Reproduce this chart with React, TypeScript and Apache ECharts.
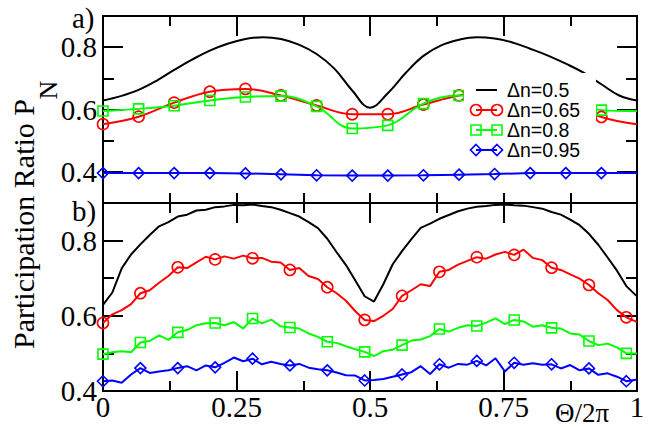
import React, { useEffect, useRef } from 'react';
import * as echarts from 'echarts';

// ---------- data ----------
// panel a) smooth curves
const xTopFine = [0, 0.0333, 0.0667, 0.1, 0.1333, 0.1667, 0.2, 0.2333, 0.2667, 0.3, 0.3333, 0.3667, 0.4, 0.4333, 0.4667, 0.5, 0.5333, 0.5667, 0.6, 0.6333, 0.6667, 0.7, 0.7333, 0.7667, 0.8, 0.8333, 0.8667, 0.9, 0.9333, 0.9667, 1];
const blackA = [0.629, 0.643, 0.663, 0.692, 0.727, 0.760, 0.789, 0.811, 0.826, 0.832, 0.826, 0.808, 0.778, 0.731, 0.661, 0.606, 0.652, 0.717, 0.772, 0.806, 0.824, 0.832, 0.828, 0.815, 0.795, 0.773, 0.747, 0.718, 0.681, 0.645, 0.629];

const xTop = [0, 0.0667, 0.1333, 0.2, 0.2667, 0.3333, 0.4, 0.4667, 0.5333, 0.6, 0.6667, 0.7333, 0.8, 0.8667, 0.9333, 1];
const redA = [0.553, 0.577, 0.622, 0.657, 0.666, 0.645, 0.613, 0.585, 0.585, 0.616, 0.645, 0.662, 0.660, 0.625, 0.576, 0.553];
const greenA = [0.595, 0.602, 0.612, 0.629, 0.640, 0.643, 0.610, 0.539, 0.549, 0.619, 0.645, 0.645, 0.635, 0.615, 0.598, 0.595];
const blueA = [0.396, 0.396, 0.396, 0.396, 0.395, 0.392, 0.389, 0.388, 0.388, 0.389, 0.391, 0.393, 0.396, 0.396, 0.396, 0.396];

// panel b) noisy curves
const xBot = [0, 0.0175, 0.035, 0.0525, 0.07, 0.0875, 0.105, 0.1225, 0.14, 0.1575, 0.175, 0.1925, 0.21, 0.2275, 0.245, 0.2625, 0.28, 0.2975, 0.315, 0.3325, 0.35, 0.3675, 0.385, 0.4025, 0.42, 0.4375, 0.455, 0.4725, 0.49, 0.5075, 0.525, 0.5425, 0.56, 0.5775, 0.595, 0.6125, 0.63, 0.6475, 0.665, 0.6825, 0.7, 0.7175, 0.735, 0.7525, 0.77, 0.7875, 0.805, 0.8225, 0.84, 0.8575, 0.875, 0.8925, 0.91, 0.9275, 0.945, 0.9625, 0.98, 0.9975, 1];
const blackB = [0.629, 0.662, 0.726, 0.763, 0.790, 0.815, 0.838, 0.849, 0.864, 0.869, 0.880, 0.882, 0.889, 0.891, 0.895, 0.894, 0.896, 0.892, 0.889, 0.882, 0.873, 0.864, 0.849, 0.833, 0.805, 0.769, 0.735, 0.694, 0.652, 0.638, 0.684, 0.737, 0.772, 0.804, 0.834, 0.845, 0.858, 0.868, 0.878, 0.885, 0.890, 0.892, 0.895, 0.896, 0.894, 0.893, 0.889, 0.885, 0.876, 0.869, 0.856, 0.841, 0.818, 0.789, 0.755, 0.720, 0.679, 0.655, 0.653];
const redB = [0.581, 0.604, 0.615, 0.631, 0.660, 0.668, 0.688, 0.706, 0.729, 0.727, 0.742, 0.757, 0.750, 0.758, 0.752, 0.760, 0.753, 0.754, 0.744, 0.742, 0.722, 0.727, 0.706, 0.698, 0.676, 0.660, 0.640, 0.612, 0.589, 0.586, 0.600, 0.618, 0.653, 0.668, 0.684, 0.679, 0.717, 0.722, 0.736, 0.746, 0.756, 0.752, 0.763, 0.770, 0.762, 0.776, 0.754, 0.748, 0.728, 0.722, 0.710, 0.699, 0.682, 0.660, 0.642, 0.615, 0.596, 0.585, 0.584];
const greenB = [0.498, 0.503, 0.506, 0.503, 0.529, 0.533, 0.548, 0.536, 0.556, 0.562, 0.575, 0.580, 0.581, 0.575, 0.583, 0.566, 0.593, 0.580, 0.590, 0.572, 0.569, 0.566, 0.553, 0.544, 0.531, 0.528, 0.519, 0.511, 0.504, 0.493, 0.506, 0.510, 0.522, 0.534, 0.537, 0.546, 0.565, 0.558, 0.568, 0.575, 0.573, 0.582, 0.593, 0.578, 0.589, 0.585, 0.571, 0.575, 0.568, 0.566, 0.553, 0.550, 0.533, 0.522, 0.526, 0.516, 0.500, 0.500, 0.500];
const blueB = [0.426, 0.428, 0.422, 0.444, 0.461, 0.448, 0.452, 0.455, 0.461, 0.466, 0.455, 0.468, 0.463, 0.475, 0.489, 0.479, 0.486, 0.471, 0.478, 0.472, 0.468, 0.472, 0.462, 0.458, 0.455, 0.449, 0.442, 0.441, 0.428, 0.429, 0.432, 0.438, 0.444, 0.450, 0.466, 0.445, 0.471, 0.462, 0.472, 0.470, 0.480, 0.468, 0.487, 0.452, 0.475, 0.470, 0.474, 0.470, 0.471, 0.460, 0.469, 0.455, 0.460, 0.443, 0.447, 0.438, 0.426, 0.430, 0.430];

// ticks and labels
const xTickValues = [0, 0.25, 0.5, 0.75, 1];
const yMajorValues = [0.4, 0.6, 0.8];
const yMinorValues = [0.5, 0.7];
const legendLabels = ['\u0394n=0.5', '\u0394n=0.65', '\u0394n=0.8', '\u0394n=0.95'];

// ---------- styles ----------
const RED = '#ff0000';
const GREEN = '#00ff00';
const BLUE = '#0000ff';
const BLACK = '#000000';
const SERIF = 'Liberation Serif';
const SANS = 'Liberation Sans';
const tickLine = { color: BLACK, width: 2 };

function markedData(xs: number[], ys: number[], isMarked: (i: number) => boolean) {
  return xs.map((x, i) => (isMarked(i) ? [x, ys[i]] : { value: [x, ys[i]], symbol: 'none' }));
}

function xAxesFor(gridIndex: number, showLabels: boolean, bottomAllShort: boolean) {
  const common = {
    type: 'value',
    gridIndex,
    min: 0,
    max: 1,
    axisLine: { show: false, onZero: false },
    splitLine: { show: false },
  };
  const bottom = bottomAllShort
    ? {
        ...common,
        position: 'bottom',
        interval: 0.125,
        axisTick: { show: true, inside: true, length: 10, lineStyle: tickLine },
        axisLabel: { show: false },
      }
    : {
        ...common,
        position: 'bottom',
        interval: 0.25,
        axisTick: { show: true, inside: true, length: 20, lineStyle: tickLine },
        minorTick: { show: true, splitNumber: 2, length: 10, lineStyle: tickLine },
        axisLabel: {
          show: showLabels,
          customValues: xTickValues,
          formatter: (v: number) => String(v),
          fontFamily: SERIF,
          fontSize: 29,
          color: BLACK,
          margin: 1,
        },
      };
  const top = {
    ...common,
    position: 'top',
    interval: 0.25,
    axisTick: { show: true, inside: true, length: 20, lineStyle: tickLine },
    minorTick: { show: true, splitNumber: 2, length: 10, lineStyle: tickLine },
    axisLabel: { show: false },
  };
  return [bottom, top];
}

function yAxesFor(gridIndex: number, min: number) {
  const common = {
    type: 'value',
    gridIndex,
    min,
    max: 0.9,
    axisLine: { show: false, onZero: false },
    splitLine: { show: false },
  };
  const major = { show: true, inside: true, length: 20, customValues: yMajorValues, lineStyle: tickLine };
  const minor = { show: true, inside: true, length: 11, customValues: yMinorValues, lineStyle: tickLine };
  return [
    {
      ...common,
      position: 'left',
      axisTick: major,
      axisLabel: {
        show: true,
        customValues: yMajorValues,
        formatter: (v: number) => v.toFixed(1),
        fontFamily: SERIF,
        fontSize: 29,
        color: BLACK,
        margin: 6,
      },
    },
    { ...common, position: 'left', axisTick: minor, axisLabel: { show: false } },
    { ...common, position: 'right', axisTick: major, axisLabel: { show: false } },
    { ...common, position: 'right', axisTick: minor, axisLabel: { show: false } },
  ];
}

const topMarked = (i: number) => i < 15;
const botMarked = (i: number) => i % 4 === 0 && i <= 56;

function markerSeries(
  name: string,
  xs: number[],
  ys: number[],
  marked: (i: number) => boolean,
  color: string,
  symbol: string,
  size: number,
  xAxisIndex: number,
  yAxisIndex: number,
  smooth: number | boolean
) {
  return {
    name,
    type: 'line',
    xAxisIndex,
    yAxisIndex,
    data: markedData(xs, ys, marked),
    smooth,
    symbol,
    symbolSize: size,
    showAllSymbol: true,
    itemStyle: { color: 'rgba(0,0,0,0)', borderColor: color, borderWidth: 1.6 },
    lineStyle: { color, width: 2 },
    emphasis: { disabled: true },
    z: 3,
  };
}

// legend drawn with graphics (two markers per sample, like the original)
const LX0 = 476;
const LX1 = 497;
const LTX = 507;
const rowsY = [90, 110, 130, 150];
const legendColors = [BLACK, RED, GREEN, BLUE];

function legendSymbol(kind: number, x: number, y: number, color: string) {
  const st = { fill: 'none', stroke: color, lineWidth: 1.6 };
  if (kind === 1) return { type: 'circle', z: 101, shape: { cx: x, cy: y, r: 5.5 }, style: st };
  if (kind === 2) return { type: 'rect', z: 101, shape: { x: x - 5, y: y - 5, width: 10, height: 10 }, style: st };
  return {
    type: 'polygon',
    z: 101,
    shape: { points: [[x, y - 5.5], [x + 5.5, y], [x, y + 5.5], [x - 5.5, y]] },
    style: st,
  };
}

function txt(text: string, x: number, y: number, family: string, size: number, align: string, extra: any = {}) {
  return {
    type: 'text',
    z: 101,
    x,
    y,
    ...extra,
    style: { text, fontFamily: family, fontSize: size, fill: BLACK, align, verticalAlign: 'middle' },
  };
}

const legendEls: any[] = [
  { type: 'rect', z: 100, shape: { x: 464, y: 73, width: 132, height: 89 }, style: { fill: '#ffffff' } },
];
legendLabels.forEach((label, k) => {
  const y = rowsY[k];
  const c = legendColors[k];
  legendEls.push({ type: 'line', z: 101, shape: { x1: LX0, y1: y, x2: LX1, y2: y }, style: { stroke: c, lineWidth: 2 } });
  if (k > 0) {
    legendEls.push(legendSymbol(k, LX0, y, c));
    legendEls.push(legendSymbol(k, LX1, y, c));
  }
  legendEls.push(txt(label, LTX, y, SANS, 19.5, 'left'));
});

const textEls: any[] = [
  txt('Participation Ratio P', 23, 224, SERIF, 30, 'center', { rotation: Math.PI / 2 }),
  txt('N', 48, 90, SERIF, 26, 'center', { rotation: Math.PI / 2 }),
  txt('a)', 72, 18, SERIF, 29, 'left'),
  txt('b)', 72, 211, SERIF, 29, 'left'),
  txt('\u0398/2\u03c0', 582, 413, SERIF, 27, 'center'),
];

const option: any = {
  animation: false,
  backgroundColor: '#ffffff',
  grid: [
    { left: 103, top: 16, width: 534, height: 187, show: true, borderColor: BLACK, borderWidth: 2, backgroundColor: 'transparent' },
    { left: 103, top: 203, width: 534, height: 188, show: true, borderColor: BLACK, borderWidth: 2, backgroundColor: 'transparent' },
  ],
  xAxis: [...xAxesFor(0, false, true), ...xAxesFor(1, true, false)],
  yAxis: [...yAxesFor(0, 0.3), ...yAxesFor(1, 0.4)],
  series: [
    {
      name: legendLabels[0], type: 'line', xAxisIndex: 0, yAxisIndex: 0,
      data: xTopFine.map((x, i) => [x, blackA[i]]), smooth: 0.4, symbol: 'none',
      lineStyle: { color: BLACK, width: 2 }, emphasis: { disabled: true }, z: 3,
    },
    markerSeries(legendLabels[1], xTop, redA, topMarked, RED, 'circle', 11, 0, 0, 0.4),
    markerSeries(legendLabels[2], xTop, greenA, topMarked, GREEN, 'rect', 10, 0, 0, 0.4),
    markerSeries(legendLabels[3], xTop, blueA, topMarked, BLUE, 'diamond', 11, 0, 0, false),
    {
      name: legendLabels[0] + ' b', type: 'line', xAxisIndex: 2, yAxisIndex: 4,
      data: xBot.map((x, i) => [x, blackB[i]]), symbol: 'none',
      lineStyle: { color: BLACK, width: 2 }, emphasis: { disabled: true }, z: 3,
    },
    markerSeries(legendLabels[1] + ' b', xBot, redB, botMarked, RED, 'circle', 11, 2, 4, false),
    markerSeries(legendLabels[2] + ' b', xBot, greenB, botMarked, GREEN, 'rect', 10, 2, 4, false),
    markerSeries(legendLabels[3] + ' b', xBot, blueB, botMarked, BLUE, 'diamond', 11, 2, 4, false),
  ],
  graphic: { elements: [...legendEls, ...textEls] },
};

export default function App() {
  const ref = useRef<HTMLDivElement>(null);
  useEffect(() => {
    document.body.style.margin = '0';
    const chart = echarts.init(ref.current as HTMLDivElement, null, { renderer: 'svg' });
    chart.setOption(option);
    return () => chart.dispose();
  }, []);
  return <div ref={ref} style={{ position: 'fixed', left: 0, top: 0, width: 652, height: 427 }} />;
}
